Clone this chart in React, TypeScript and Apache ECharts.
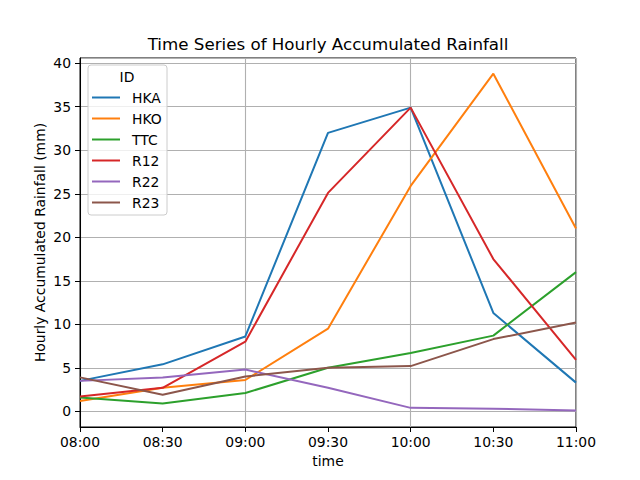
import React, { useEffect, useRef } from "react";
import * as echarts from "echarts";

const times = ["08:00", "08:30", "09:00", "09:30", "10:00", "10:30", "11:00"];
const ids = ["HKA", "HKO", "TTC", "R12", "R22", "R23"];
const colors = ["#1f77b4", "#ff7f0e", "#2ca02c", "#d62728", "#9467bd", "#8c564b"];
const hka = [3.5, 5.4, 8.6, 32.0, 34.9, 11.3, 3.3];
const hko = [1.2, 2.7, 3.6, 9.5, 25.9, 38.8, 21.0];
const ttc = [1.6, 0.9, 2.1, 5.0, 6.7, 8.7, 16.0];
const r12 = [1.7, 2.7, 8.0, 25.1, 34.9, 17.5, 5.9];
const r22 = [3.5, 3.9, 4.8, 2.7, 0.4, 0.3, 0.1];
const r23 = [3.9, 1.9, 4.0, 5.0, 5.2, 8.3, 10.2];
const seriesValues = [hka, hko, ttc, r12, r22, r23];

const FONT = "DejaVu Sans";

export default function App() {
  const ref = useRef<HTMLDivElement>(null);
  useEffect(() => {
    if (!ref.current) return;
    const chart = echarts.init(ref.current, undefined, { renderer: "svg" });
    chart.setOption({
      animation: false,
      backgroundColor: "#ffffff",
      textStyle: { fontFamily: FONT },
      grid: {
        left: 80,
        right: 64,
        top: 58,
        bottom: 53,
        show: true,
        borderColor: "#000000",
        borderWidth: 1,
        backgroundColor: "transparent",
      },
      legend: {
        orient: "vertical",
        left: 87,
        top: 82,
        itemWidth: 28,
        itemHeight: 2,
        itemGap: 0,
        icon: "rect",
        data: ids,
        textStyle: {
          fontFamily: FONT,
          fontSize: 13.9,
          color: "#000000",
          lineHeight: 21,
          padding: [0, 0, 0, 7],
        },
        z: 10,
      },
      xAxis: {
        type: "category",
        data: times,
        boundaryGap: false,
        name: "time",
        nameLocation: "middle",
        nameGap: 27,
        nameMoveOverlap: false,
        nameTextStyle: { fontFamily: FONT, fontSize: 13.9, color: "#000000" },
        axisLine: { show: true, onZero: false, lineStyle: { color: "#000000", width: 1 } },
        axisTick: { show: true, interval: 0, length: 5, lineStyle: { color: "#000000" } },
        axisLabel: {
          interval: 0,
          margin: 8,
          fontFamily: FONT,
          fontSize: 13.9,
          color: "#000000",
        },
        splitLine: {
          show: true,
          interval: (i: number) => i % 2 === 0,
          lineStyle: { color: "#b0b0b0", width: 1.1 },
        },
      },
      yAxis: {
        type: "value",
        min: -1.8,
        max: 40.6,
        splitNumber: 8,
        name: "Hourly Accumulated Rainfall (mm)",
        nameLocation: "middle",
        nameGap: 33,
        nameMoveOverlap: false,
        nameTextStyle: { fontFamily: FONT, fontSize: 13.9, color: "#000000" },
        axisLine: { show: true, onZero: false, lineStyle: { color: "#000000", width: 1 } },
        axisTick: { show: true, length: 5, lineStyle: { color: "#000000" } },
        axisLabel: {
          margin: 9,
          fontFamily: FONT,
          fontSize: 13.9,
          color: "#000000",
          showMinLabel: false,
          showMaxLabel: false,
        },
        splitLine: { show: true, lineStyle: { color: "#b0b0b0", width: 1.1 } },
      },
      graphic: [
        {
          type: "text",
          x: 328,
          y: 44,
          style: {
            text: "Time Series of Hourly Accumulated Rainfall",
            font: `16.7px "${FONT}"`,
            fill: "#000000",
            align: "center",
            verticalAlign: "middle",
          },
        },
        {
          type: "rect",
          shape: { x: 88, y: 65, width: 79, height: 150, r: 3 },
          style: { fill: "rgba(255,255,255,0.8)", stroke: "#cccccc", lineWidth: 1 },
          z: 5,
        },
        {
          type: "text",
          x: 127,
          y: 77,
          style: {
            text: "ID",
            font: `13.9px "${FONT}"`,
            fill: "#000000",
            align: "center",
            verticalAlign: "middle",
          },
          z: 6,
        },
      ],
      series: ids.map((id, k) => ({
        name: id,
        type: "line",
        data: seriesValues[k],
        showSymbol: false,
        symbol: "none",
        lineStyle: { color: colors[k], width: 2 },
        itemStyle: { color: colors[k] },
      })),
    });
    return () => chart.dispose();
  }, []);
  return (
    <div
      ref={ref}
      style={{ width: 640, height: 480, position: "absolute", left: 0, top: 0 }}
    />
  );
}
